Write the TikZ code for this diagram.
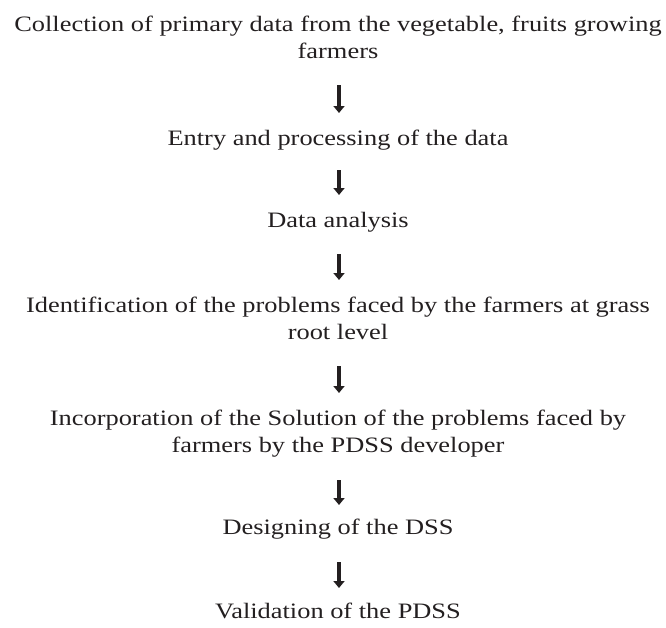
\documentclass[tikz,border=0pt]{standalone}
\usepackage{fontspec}
\setmainfont[FakeStretch=1.2]{Liberation Serif}
\usetikzlibrary{arrows.meta,calc}
\definecolor{ink}{RGB}{35,31,32}
\begin{document}
\begin{tikzpicture}[x=1pt,y=-1pt,
  lbl/.style={inner sep=0pt,align=center,anchor=base,font=\fontsize{22}{27}\selectfont,text=ink},
  arr/.style={draw=ink,line width=4.5pt,-{Triangle[width=11pt,length=7pt]}}]
\useasboundingbox (0,0) rectangle (666,627);
\node[lbl] (n1) at (338,58) {Collection of primary data from the vegetable, fruits growing\\farmers};
\node[lbl] (n2) at (338,145) {Entry and processing of the data};
\node[lbl] (n3) at (338,227) {Data analysis};
\node[lbl] (n4) at (338,339) {Identification of the problems faced by the farmers at grass\\root level};
\node[lbl] (n5) at (338,452) {Incorporation of the Solution of the problems faced by\\farmers by the PDSS developer};
\node[lbl] (n6) at (338,534) {Designing of the DSS};
\node[lbl] (n7) at (338,618) {Validation of the PDSS};
\draw[arr] ($(n1.base)+(1,27)$) -- ($(n2.base)+(1,-32)$);
\draw[arr] ($(n2.base)+(1,25)$) -- ($(n3.base)+(1,-32)$);
\draw[arr] ($(n3.base)+(1,27)$) -- ($(n4.base)+(1,-59)$);
\draw[arr] ($(n4.base)+(1,27)$) -- ($(n5.base)+(1,-59)$);
\draw[arr] ($(n5.base)+(1,28)$) -- ($(n6.base)+(1,-29)$);
\draw[arr] ($(n6.base)+(1,28)$) -- ($(n7.base)+(1,-30)$);
\end{tikzpicture}
\end{document}
